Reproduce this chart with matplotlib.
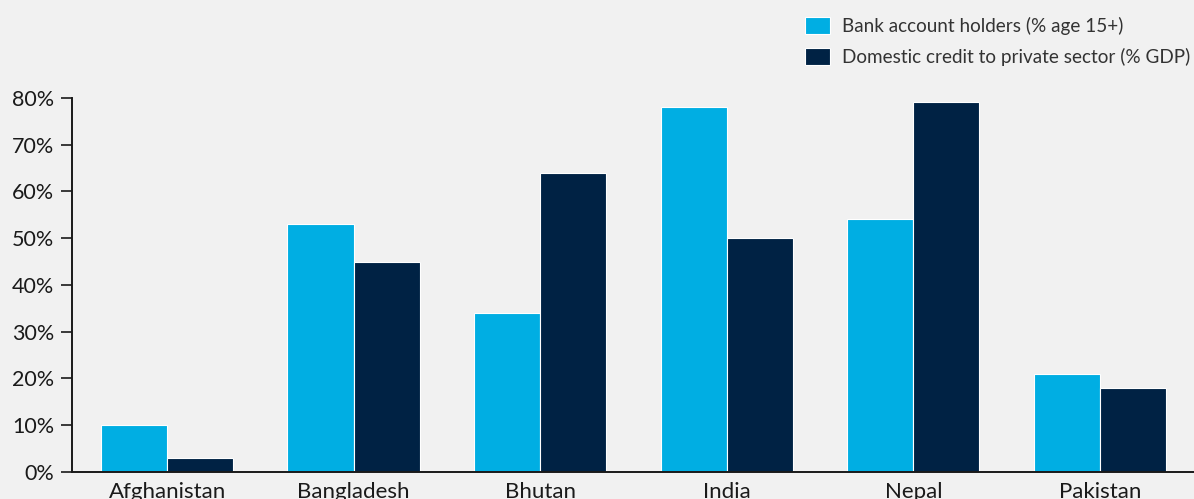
import matplotlib.pyplot as plt
import numpy as np
from matplotlib.ticker import PercentFormatter

countries = ["Afghanistan", "Bangladesh", "Bhutan", "India", "Nepal", "Pakistan"]
account_holders = [10, 53, 34, 78, 54, 21]
private_credit = [3, 45, 64, 50, 79, 18]
labels = ["Bank account holders (% age 15+)", "Domestic credit to private sector (% GDP)"]

plt.rcParams['font.family'] = ['Lato', 'DejaVu Sans']
bg = '#f1f1f1'
light = '#00aee3'
dark = '#002244'

fig = plt.figure(figsize=(11.94, 4.99), dpi=100, facecolor=bg)
ax = fig.add_axes([0.0603, 0.054, 0.9397, 0.75], facecolor=bg)

x = np.arange(len(countries))
w = 0.355
ax.bar(x - w / 2, account_holders, w, color=light, edgecolor='white', linewidth=0.8, label=labels[0])
ax.bar(x + w / 2, private_credit, w, color=dark, edgecolor='white', linewidth=0.8, label=labels[1])

ax.set_xlim(-0.51, 5.505)
ax.set_ylim(0, 80)
ax.set_yticks(range(0, 81, 10))
ax.yaxis.set_major_formatter(PercentFormatter(decimals=0))
ax.set_xticks(x)
ax.set_xticklabels(countries)
ax.tick_params(axis='y', labelsize=15.5, length=8, width=1.2, colors='#1a1a1a', pad=5)
ax.tick_params(axis='x', labelsize=16, length=0, pad=7, colors='#1a1a1a')

for s in ['top', 'right']:
    ax.spines[s].set_visible(False)
for s in ['left', 'bottom']:
    ax.spines[s].set_linewidth(1.4)
    ax.spines[s].set_color('#1a1a1a')

fig.legend(loc='upper right', bbox_to_anchor=(1.011, 1.0), frameon=False,
           fontsize=13.6, handlelength=1.33, handleheight=1.0, handletextpad=0.64,
           labelspacing=0.7, labelcolor='#333333')

fig.savefig('out.png', dpi=100, facecolor=bg)
